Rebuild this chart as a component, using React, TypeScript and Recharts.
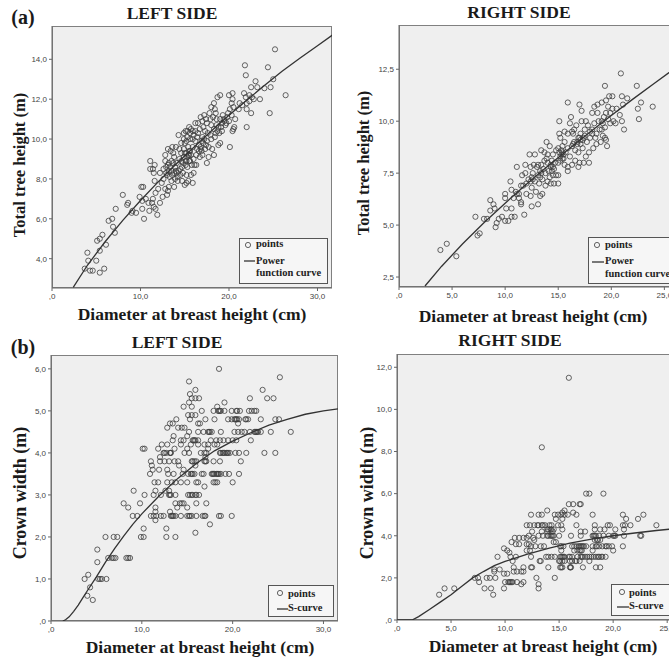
import React from 'react'
import { ScatterChart, Scatter, XAxis, YAxis } from 'recharts'

type Pair = [number, number]
type Row = [number, number[]]

const heightLeftPoints: Pair[] = [
  [25.2,14.5],[21.8,13.7],[21.9,13.2],[24.4,13.6],[25,13],[23,12.9],[22.5,12.6],[23.2,12.6],[24,12.55],[24.7,12.6],
  [26.4,12.2],[23.5,12],[24.6,11.3],[22.5,11.3],[22,10.6],[22,11.5],[20.1,9.6],[20,12.2],[20.4,12.3],[20.4,12],
  [20.3,11.8],[19,12.2],[18.7,12.1],[20.5,11.6],[21.1,11.5],[21.5,11.7],[21.7,12.3],[21.9,12.1],[22.3,12.2],[22.6,12.1],
  [22.8,12],[22,11.8],[22.3,11.9],[21.2,11.8],[20.1,11.5],[19.8,11.1],[20,10.9],[20.7,11],[20.6,10.6],[20.4,10.4],
  [20.5,10.5],[19.2,10.8],[19.6,10.7],[19.3,11.2],[18.5,11.3],[18.3,11.8],[18,11.6],[18.4,11.5],[17.8,11.3],[17.2,11.2],
  [16.8,11.1],[16.5,10.8],[17,10.9],[17.5,10.8],[18,10.7],[18.6,10.7],[18.9,10.3],[19,9.8],[18.8,9.7],[18.3,9.2],
  [17.5,8.8],[17.7,9.1],[18.1,9.5],[17,9.2],[16.8,9.6],[17.3,9.5],[17.5,9.9],[17.9,10.2],[18.3,10.5],[16.5,10.3],
  [17,10.1],[17.3,10.4],[16.2,9.9],[16.4,9.5],[16,9],[16.1,8.7],[16,8.3],[15.9,7.8],[15.4,7.9],[15.2,8.2],
  [15,7.7],[15.2,7.8],[14.5,8.2],[14.7,8.6],[14.2,8.1],[14,8.4],[13.8,7.6],[13.5,7.9],[13.2,7.6],[13,7.2],
  [13.1,7.4],[12.8,7.5],[12.5,7.1],[12.2,6.8],[11.9,6.2],[11.7,6.5],[11.5,6.6],[11,6.4],[11.3,6.8],[10.9,6.8],
  [10.6,7],[11.4,7],[11.7,7.3],[12,7.5],[12.4,7.8],[12.2,8.3],[12.6,8.5],[12.8,8.9],[12.8,9.2],[13.1,9.5],
  [13.6,9.6],[14,9.6],[14.4,9.5],[14.3,10.2],[15.1,10.4],[15.5,10.6],[15.3,10.1],[15,9.8],[15.5,9.4],[15.9,9.6],
  [16,10.2],[15.7,10.5],[15.9,10.4],[16.2,10.8],[11.1,8.9],[11.1,8.5],[11.6,8.7],[11.5,8.3],[11.4,8.5],[11.6,7.9],
  [10.1,7.6],[10.3,7.6],[9.9,7.1],[10.2,6.9],[10.2,6.5],[10.4,6],[8,7.2],[8.6,6.8],[8.5,6.7],[7.2,6.5],
  [9.1,6.4],[9.5,6.3],[9,6.3],[6.4,5.9],[6.8,6],[6.9,5.6],[7.1,5.3],[5.7,5.2],[5.4,5],[5.1,4.9],
  [5.4,4.4],[6.1,4.7],[4,4.3],[4.1,3.9],[5,3.9],[3.7,3.5],[4.3,3.4],[4.6,3.4],[5.9,3.5],[5.4,3.3],
  [13,8.2],[13.3,8.6],[13.5,8.9],[13.8,9.1],[14.1,8.8],[14.4,9],[14.6,9.3],[14.9,9.1],[15.1,8.9],[15.3,8.6],
  [15.5,8.9],[15.7,9.2],[15.4,9.6],[15.8,8.7],[14.8,8.3],[14.5,8.5],[14.2,7.9],[13.9,8],[13.6,8.2],[13.3,8.1],
  [12.9,8.3],[12.6,8],[13.2,8.8],[13.9,8.6],[14.9,9.5],[15.2,9.9],[15.6,10],[16.3,9.2],[16.6,9.4],[16.9,9.9],
  [17.2,10],[17.6,10.3],[18,10],[18.4,10.1],[18.7,10.4],[19.1,10.6],[19.5,10.9],[19.9,11.3],[16.4,10.1],[16.7,10.5],
  [17.1,10.6],[17.4,11],[17.9,11],[18.2,11.1],[18.6,11],[19,11],[16.9,9.4],[16.7,9.1],[16.3,8.7],[15.7,8.2],
  [15.1,8.7],[14.7,7.9],[13.7,9.3],[13.4,9.4],[12.9,8.6],[15.4,9.2],[15.6,9.4],[14.6,9.8],[14.9,10],[15.3,10.4],
  [15.2,9.3],[15.3,9.1],[15.5,9.2],[15.6,8.9],[15.2,8.9],[15,9.3],[14.8,8.8],[14.6,8.9],[14.3,8.4],[14.1,8.3],
  [13.8,8.3],[13.5,8.4],[13.2,8.4],[13.1,8.7],[16.6,9.7],[16.8,9.5],[17.1,9.8],[17.4,9.7],[17.7,9.6],[18.5,10.3],
  [18.8,10.6],[19.2,10.4],[19.7,10.8],[19.4,11],[20.3,11.2],[16.2,10.4],[15.9,10],[15.6,10.3],[14.9,10.3],[13.7,8.8],
]
const heightLeftCurveX = [2.4,4,6,8,10,12,14,16,18,20,22,24,26,28,30,31.7]
const heightLeftCurveY = [2.56,3.67,4.85,5.92,6.92,7.85,8.74,9.58,10.4,11.19,11.95,12.68,13.4,14.05,14.68,15.22]

const heightRightPoints: Pair[] = [
  [20.9,12.3],[19.4,11.7],[22.4,11.7],[21,11.2],[21.5,11.1],[22.8,10.9],[23.9,10.7],[22.5,10.6],[22.6,10.1],[21.2,9.6],
  [21,10],[20.8,10.3],[21.1,10.8],[19.6,8.8],[15.9,10.9],[17,10.8],[17.2,10.5],[15.1,10],[16.2,10.2],[13.9,9],
  [14.2,8.8],[3.9,3.8],[4.5,4.1],[5.4,3.5],[7.2,5.4],[7.4,4.5],[7.6,4.6],[8,5.3],[8.3,5.3],[8.6,6.2],
  [8.6,5.7],[8.9,6],[9,5.8],[9.1,4.9],[9.2,5.1],[9.4,5.3],[9.7,5.4],[10,5.2],[10.3,5.2],[10.1,5.8],
  [10.6,5.8],[10.6,5.4],[10.9,5.4],[11.8,5.5],[11.5,6.1],[11.5,6],[12.5,5.9],[13.1,6],[10,6.5],[10,6.3],
  [10.5,7.1],[10.6,6.7],[11,6.6],[10.8,6.3],[11.1,7.8],[11.9,7.9],[12.4,7.8],[11.6,7.4],[11.9,7.5],[12.2,7.2],
  [12.5,7.3],[12.8,7.1],[13.1,7.4],[13.3,7.6],[13.5,7.2],[13.8,7.5],[11.3,6.5],[11.7,6.9],[12,6.5],[12.4,6.4],
  [12.5,6.8],[12.9,6.6],[13.3,6.4],[13.5,6.5],[13.8,6.9],[14,7.1],[14.3,7],[14.6,7],[15,7],[14.8,7.4],
  [15,7.4],[14.6,7.7],[14.3,7.8],[14,8],[13.7,8.1],[13.4,7.9],[13.1,7.9],[12.8,8.4],[12.3,8.4],[13.4,8.6],
  [13.7,8.5],[14,8.4],[14.4,8.1],[14.7,8],[15,8],[15.2,8.3],[15.4,8.2],[15.6,7.9],[15.9,7.6],[15.9,7.8],
  [16.3,7.9],[16.6,8.1],[16.9,7.8],[17,8],[17.4,8],[17.9,8],[17.6,8.3],[17.9,8.5],[18.3,8.7],[18.6,8.9],
  [19,9],[19.4,9.2],[19.5,9.1],[19.1,9.6],[19.4,9.7],[18.8,10],[19.1,10],[19.5,10.4],[19.9,10.4],[20.2,10],
  [19.9,9.9],[20.5,10.6],[19.7,10.7],[19.8,11.2],[20.1,11.2],[19.5,11],[19.1,10.9],[18.7,10.4],[18.4,10.7],[18.2,10.4],
  [18.7,10.8],[17.6,10],[17.2,10],[17.8,9.8],[18.2,9.6],[18.6,9.4],[18,9.2],[17.7,9],[17.3,9.1],[17.1,9.4],
  [16.7,9.8],[16.5,9.6],[16.1,9.9],[16.3,9.5],[15.9,9.4],[15.6,9.5],[15.1,9.4],[15.2,9.2],[15.6,9],[15.9,8.7],
  [16.3,8.8],[16.5,9],[16.8,9],[17,9.2],[17.3,8.7],[16.6,8.6],[16.1,8.3],[15.7,8.5],[15.3,8.6],[15,8.7],
  [15.4,8.8],[15.5,8.4],[16.9,8.5],[17.1,8.9],[17.5,9.3],[18,9.5],[18.4,9.9],[18.9,9.6],[14.8,8.6],[14.5,7.4],
  [13.2,7],[13,7.8],[12.6,7.5],[12,7],[11.5,6.9],[11.3,6.3],[11.1,6.5],[12.7,7.9],[13.6,7.7],[14.2,7.3],
  [14.1,7.6],[14.5,8.4],[13.9,8.2],[16.4,9.4],[17.5,9.6],[18.5,9.2],[19.2,9.3],[19.7,10.1],[20.1,10.6],[20.4,9.9],
  [15.2,8.1],[15.3,8.4],[15.4,8.5],[15.1,8.5],[15.5,8.2],[14.3,7.9],[14.5,7.8],[14.4,7.6],[13.4,7.5],[13.3,7.3],
  [12.4,7.1],[12.6,7.2],[16.8,8.9],[17.1,9.1],[16.9,9.2],[17.4,9.2],[16.4,8.9],[18.2,9.4],[19.3,10.2],[19.2,9.9],
]
const heightRightCurveX = [2.45,4,6,8,10,12,14,16,18,20,22,24,26]
const heightRightCurveY = [2.07,3.01,4.1,5.11,6.05,6.96,7.83,8.66,9.48,10.27,11.05,11.8,12.55]

const crownLeftRows: Row[] = [
  [6,[18.5]],[5.8,[25.2]],[5.7,[15.2]],[5.5,[15.9,23.3]],[5.4,[15.3]],
  [5.3,[15.5,15.9,16.3,21.9,23.8,24.5]],[5.2,[15.2,19.1]],[5.1,[14.6,15.5,18.3]],
  [5,[16.6,17.9,18.4,18.5,18.6,18.7,19.1,19.9,20.4,20.5,20.8,21.8,22.1,22.4,22.6]],[4.9,[15.1,15.5,15.9]],
  [4.8,[13.8,15.3,17,18,19.5,19.9,20.2,20.3,20.4,20.5,20.7,21.4,21.5,21.7,23.1,24.7,25.1]],[4.7,[13.1,13.4,16.2,16.4,20.6]],
  [4.6,[12.8,14,14.4,14.7]],[4.5,[15.2,16.2,16.8,17.3,17.4,17.5,17.7,18.7,20.2,20.6,21,21.3,21.9,22.4,22.5,22.6,22.7,22.8,23.1,24.2,26.4]],
  [4.4,[13.5,15]],[4.3,[13.4,14.3,14.6,15.6,15.7,15.8,15.9,16.2,17.6,18.2,18.6,19,19.5,20,20.4,22]],
  [4.2,[12.2,12.8,14.3,15.4,16.2,16.9,17.3,18,18.3]],[4.1,[10.1,10.3,11.8,13.6,15,17.3]],
  [4,[12.4,12.5,12.7,13.1,13.15,13.2,14.7,15.2,16.5,16.9,17.1,18.6,18.7,18.9,19,19.1,19.3,19.4,19.5,19.7,20.3,20.7,21.5,23.5,24.7]],[3.9,[12,17]],
  [3.8,[11,12,12.5,13,13.6,14,15.5,15.6,15.8,16,16.9,17,17.1,17.9,18.6,20.9]],[3.7,[11.1,14.1,15.9]],[3.6,[11.2,11.9,12.8,14.6]],
  [3.5,[10.9,12.9,13.5,14.5,15.1,15.4,15.5,15.6,15.8,16.6,16.8,17.7,17.8,17.9,18,18.2,18.3,18.4,18.5,18.7,19.2,19.6,20.7]],
  [3.3,[11.4,11.8,12.8,13.3,13.7,14.3,15,16,16.2,17.9,18.1,18.3,20]],[3.2,[16.9]],[3.1,[9.1,11.5,12.6,13]],
  [3,[10.3,11.3,12.1,13,13.1,13.2,13.7,15.1,15.3,15.5,15.6,15.9,16,16.3]],[2.8,[8,9.8,13.7,14.2,14.4,14.6,16,17.1]],[2.7,[8.5,11.5,13.9,15]],
  [2.6,[11.5,13.1]],[2.5,[9,9.5,11,11.3,11.6,12.1,12.4,13.2,13.3,13.4,13.5,13.7,14.3,15,15.2,15.3,15.5,16,16.7,16.9,17,18.5,18.7,19.9]],
  [2.4,[11.5]],[2.3,[17.5]],[2.2,[10.2,12.7]],[2.1,[15.9]],[2,[6,6.9,7.3,9.9,10.2,12.7,13.7]],[1.7,[5.1]],
  [1.5,[6.3,6.7,6.9,7.1,8.3,8.5,8.7]],[1.4,[5.1]],[1.1,[4.1]],[1,[3.7,5.2,5.4,5.6,6.1]],[0.8,[4.3]],[0.6,[4]],[0.5,[4.6]],
]
const crownLeftCurveX = [1.3,1.6,2,2.5,3,3.5,4,5,6,7,8,9,10,12,14,16,18,20,22,24,26,28,30,31.6]
const crownLeftCurveY = [0,0.03,0.1,0.23,0.38,0.55,0.72,1.05,1.4,1.72,2.02,2.3,2.55,3,3.4,3.75,4.05,4.28,4.48,4.66,4.8,4.92,5,5.05]

const crownRightRows: Row[] = [
  [11.5,[15.9]],[8.2,[13.4]],[6,[17.5,17.8,19.1]],[5.5,[15.9,16.3,16.9,17]],[5.2,[13.9,15.5]],[5.1,[15.3,16.3]],
  [5,[12.4,13.1,13.4,14.6,14.9,15.2,15.5,15.8,16.6,18.1,20.9,22.8]],[4.8,[14.7,15.3,21.2,22.3]],
  [4.5,[12,12.3,12.7,13,13.1,13.4,13.5,13.7,14.1,14.3,14.9,15.2,16.6,18.3,19.5,19.7,20.9,21.1,21.6,24]],
  [4.3,[13.9,14,14.2,14.3,14.5,15.3,18.3,18.8,19.2,20.2,21]],[4.2,[12.5,13.4,13.9,14.4,17,17.4]],
  [4,[12.2,13.1,13.5,13.9,14,14.2,14.3,14.4,14.5,15,16.1,17,18.1,18.2,18.3,18.4,18.7,19.1,19.6,20,20.1,20.2,21,22.5,22.6]],
  [3.9,[10.9,11.3,11.7,12,12.6]],[3.8,[12.7,18.3,18.5,18.6,18.8]],[3.7,[10.6,14.5,14.7]],[3.6,[11,11.3,12,12.2]],
  [3.5,[12.4,12.8,13.3,13.6,15.1,15.2,15.4,16.2,16.4,16.6,16.8,16.9,17,17.1,17.2,17.3,17.5,18.1,18.4,18.5,18.7,19,19.3,19.4,19.6,19.9,20.9]],
  [3.4,[9.9]],[3.3,[10.2,12,12.3,15.2,16.4,16.7,16.9,17,17.1,18.1,20]],[3.2,[10.4]],
  [3,[9.3,10.5,11,12.4,13.8,14,14.3,14.6,15.1,15.2,15.3,15.4,15.5,15.9,16,16.2,16.7,17,17.1,17.2,17.4,17.6,17.8,18,18.2,18.4,18.6,18.7,18.9,19,19.3]],
  [2.8,[10.7,13.2,13.3,15,15.1,15.3,15.5,16,16.2,16.5,16.6,16.9,17.8]],[2.5,[10.8,11.7,12.4,12.5,14,15.1,15.2,15.3,16,16.05,16.1,17.2,18.4,18.8]],
  [2.4,[9,9.5]],[2.3,[9,10.8,11.1,11.5,11.7]],[2.2,[9.9,10.2]],[2,[7.2,7.5,8.3,8.6,9.1,12.9,14.6]],
  [1.8,[7.6,10,10.3,10.4,10.5,10.6,10.7,11.1,11.7]],[1.7,[11.5,13.1]],[1.5,[4.4,5.3,8.1,8.7,9.9,13.1]],[1.2,[3.9,8.9]],
]
const crownRightCurveX = [0,1.4,2,3,4,5,6,7,8,9,10,12,14,16,18,20,22,24,26]
const crownRightCurveY = [0,0,0.16,0.5,0.85,1.2,1.6,2,2.3,2.58,2.78,3.12,3.4,3.65,3.84,4,4.13,4.25,4.35]

const INK = '#3d3d3d'
const SERIF = '"Liberation Serif", serif'

const fromPairs = (pairs: Pair[]) => pairs.map(([x, y]) => ({ x, y }))
const fromRows = (rows: Row[]) => rows.flatMap(([y, xs]) => xs.map((x) => ({ x, y })))
const fromColumns = (xs: number[], ys: number[]) => xs.map((x, i) => ({ x, y: ys[i] }))

const formatTick = (value: number) => {
  if (value === 0) return ',0'
  return value.toFixed(1).replace('.', ',')
}

function Ring(props: any) {
  return <circle cx={props.cx} cy={props.cy} r={2.6} fill="none" stroke={INK} strokeWidth={0.8} />
}

const NoMark = () => <g />

interface PanelProps {
  left: number
  top: number
  width: number
  height: number
  xDomain: [number, number]
  yDomain: [number, number]
  xTicks: number[]
  yTicks: number[]
  points: { x: number; y: number }[]
  curve: { x: number; y: number }[]
}

function Panel({ left, top, width, height, xDomain, yDomain, xTicks, yTicks, points, curve }: PanelProps) {
  const gutter = 40
  const foot = 24
  return (
    <>
      <div
        style={{
          position: 'absolute',
          left,
          top,
          width,
          height,
          boxSizing: 'border-box',
          background: '#efefef',
          border: '1.5px solid #808080'
        }}
      />
      <div style={{ position: 'absolute', left: left - gutter, top: top - 5 }}>
        <ScatterChart
          width={width + gutter + 5}
          height={height + foot + 5}
          margin={{ top: 5, right: 5, left: 0, bottom: 0 }}
        >
          <XAxis
            type="number"
            dataKey="x"
            domain={xDomain}
            ticks={xTicks}
            allowDataOverflow
            height={foot}
            tickSize={3}
            tickFormatter={formatTick}
            tick={{ fontSize: 8, fill: '#444', fontFamily: '"Liberation Sans", sans-serif' }}
            stroke="#666"
          />
          <YAxis
            type="number"
            dataKey="y"
            domain={yDomain}
            ticks={yTicks}
            allowDataOverflow
            width={gutter}
            tickSize={3}
            tickFormatter={formatTick}
            tick={{ fontSize: 8, fill: '#444', fontFamily: '"Liberation Sans", sans-serif' }}
            stroke="#666"
          />
          <Scatter data={points} shape={Ring} isAnimationActive={false} />
          <Scatter
            data={curve}
            line={{ stroke: '#333', strokeWidth: 1.3 }}
            lineType="joint"
            shape={NoMark}
            isAnimationActive={false}
          />
        </ScatterChart>
      </div>
    </>
  )
}

function Caption({ x, y, size, rotate, children }: { x: number; y: number; size: number; rotate?: boolean; children: string }) {
  return (
    <span
      style={{
        position: 'absolute',
        left: x,
        top: y,
        transform: `translate(-50%, -50%)${rotate ? ' rotate(-90deg)' : ''}`,
        whiteSpace: 'nowrap',
        fontFamily: SERIF,
        fontWeight: 700,
        fontSize: size,
        lineHeight: 1,
        color: '#1a1a1a'
      }}
    >
      {children}
    </span>
  )
}

function LegendBox({ left, top, width, height, ringX, ringY, textX, lineX, lineEnd, lineY, labels }: {
  left: number
  top: number
  width: number
  height: number
  ringX: number
  ringY: number
  textX: number
  lineX: number
  lineEnd: number
  lineY: number
  labels: [string, number][]
}) {
  return (
    <div
      style={{
        position: 'absolute',
        left,
        top,
        width,
        height,
        boxSizing: 'border-box',
        background: '#f6f6f6',
        border: '1.5px solid #555'
      }}
    >
      <svg width={width} height={height} style={{ position: 'absolute', left: -1.5, top: -1.5 }}>
        <circle cx={ringX - left} cy={ringY - top} r={2.6} fill="none" stroke={INK} strokeWidth={0.8} />
        <line x1={lineX - left} x2={lineEnd - left} y1={lineY - top} y2={lineY - top} stroke="#333" strokeWidth={1.3} />
        {labels.map(([label, y]) => (
          <text
            key={label}
            x={textX - left}
            y={y - top}
            fontFamily={SERIF}
            fontWeight={700}
            fontSize={10.5}
            fill="#222"
            dominantBaseline="middle"
          >
            {label}
          </text>
        ))}
      </svg>
    </div>
  )
}

export default function App() {
  return (
    <div style={{ position: 'absolute', left: 0, top: 0, width: 669, height: 660, overflow: 'hidden', background: '#fff' }}>
      <Caption x={23} y={17} size={20}>(a)</Caption>
      <Caption x={172} y={14} size={17.5}>LEFT SIDE</Caption>
      <Caption x={519} y={13} size={17.5}>RIGHT SIDE</Caption>
      <Caption x={23} y={347} size={20}>(b)</Caption>
      <Caption x={177} y={343} size={17.5}>LEFT SIDE</Caption>
      <Caption x={510} y={341} size={17.5}>RIGHT SIDE</Caption>

      <Panel
        left={52}
        top={26}
        width={280}
        height={262}
        xDomain={[0, 31.64]}
        yDomain={[2.53, 15.67]}
        xTicks={[0, 10, 20, 30]}
        yTicks={[4, 6, 8, 10, 12, 14]}
        points={fromPairs(heightLeftPoints)}
        curve={fromColumns(heightLeftCurveX, heightLeftCurveY)}
      />
      <Panel
        left={398.5}
        top={25}
        width={276}
        height={262}
        xDomain={[0, 26]}
        yDomain={[2.02, 14.63]}
        xTicks={[0, 5, 10, 15, 20, 25]}
        yTicks={[2.5, 5, 7.5, 10, 12.5]}
        points={fromPairs(heightRightPoints)}
        curve={fromColumns(heightRightCurveX, heightRightCurveY)}
      />
      <Panel
        left={51}
        top={355}
        width={287}
        height={266}
        xDomain={[0, 31.6]}
        yDomain={[0, 6.33]}
        xTicks={[0, 10, 20, 30]}
        yTicks={[0, 1, 2, 3, 4, 5, 6]}
        points={fromRows(crownLeftRows)}
        curve={fromColumns(crownLeftCurveX, crownLeftCurveY)}
      />
      <Panel
        left={397}
        top={353.5}
        width={281}
        height={266}
        xDomain={[0, 26]}
        yDomain={[0, 12.63]}
        xTicks={[0, 5, 10, 15, 20, 25]}
        yTicks={[0, 2, 4, 6, 8, 10, 12]}
        points={fromRows(crownRightRows)}
        curve={fromColumns(crownRightCurveX, crownRightCurveY)}
      />

      <LegendBox left={239} top={238} width={89} height={46} ringX={248} ringY={245} textX={256} lineX={244} lineEnd={255} lineY={261}
        labels={[['points', 244.5], ['Power', 261.5], ['function curve', 274]]} />
      <LegendBox left={588} top={237} width={90} height={47} ringX={597} ringY={245} textX={605} lineX={592} lineEnd={604} lineY={262}
        labels={[['points', 246], ['Power', 262], ['function curve', 275]]} />
      <LegendBox left={268} top={585} width={66} height={32} ringX={280} ringY={593} textX={288} lineX={277} lineEnd={288} lineY={609}
        labels={[['points', 595], ['S-curve', 609]]} />
      <LegendBox left={611} top={584} width={66} height={32} ringX={622} ringY={592} textX={629} lineX={617} lineEnd={629} lineY={607}
        labels={[['points', 594], ['S-curve', 607]]} />

      <Caption x={192} y={315} size={17.5}>Diameter at breast height (cm)</Caption>
      <Caption x={533} y={317} size={17.5}>Diameter at breast height (cm)</Caption>
      <Caption x={200} y={648} size={17.5}>Diameter at breast height (cm)</Caption>
      <Caption x={543} y={647} size={17.5}>Diameter at breast height (cm)</Caption>
      <Caption x={20} y={165} size={16.5} rotate>Total tree height (m)</Caption>
      <Caption x={364} y={163} size={16.5} rotate>Total tree height (m)</Caption>
      <Caption x={20} y={493} size={18} rotate>Crown width (m)</Caption>
      <Caption x={367} y={493} size={18} rotate>Crown width (m)</Caption>
    </div>
  )
}
